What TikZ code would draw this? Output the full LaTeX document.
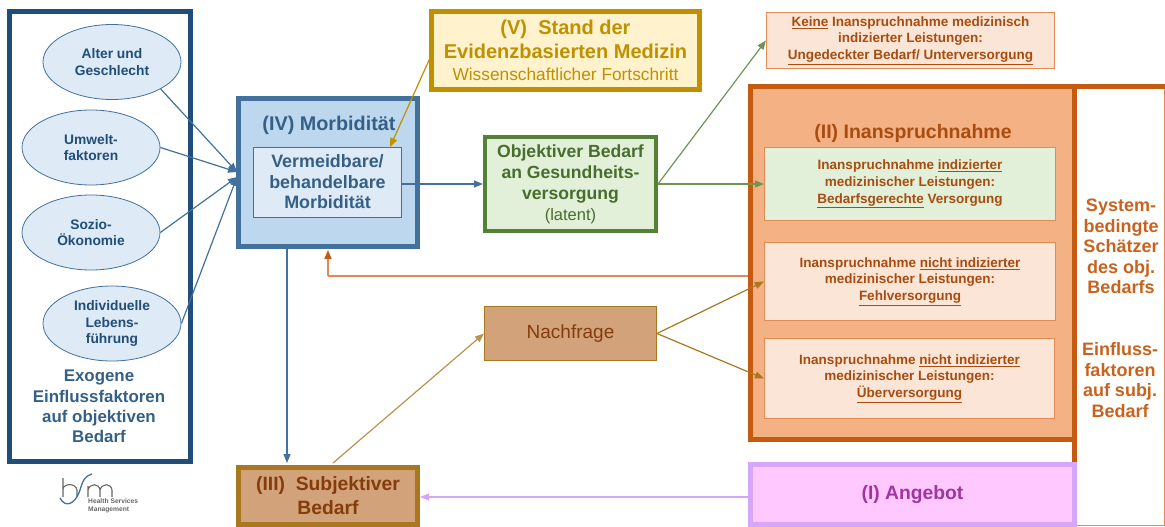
\documentclass[tikz,border=0pt]{standalone}
\usepackage{fontspec}
\setmainfont{Liberation Sans}
\usetikzlibrary{arrows.meta,shapes.geometric}
\definecolor{darkblue}{HTML}{1F4E79}
\definecolor{midblue}{HTML}{41719C}
\definecolor{lightblue}{HTML}{BDD7EE}
\definecolor{paleblue}{HTML}{DEEAF6}
\definecolor{darkgreen}{HTML}{548235}
\definecolor{palegreen}{HTML}{E2F0D9}
\definecolor{gold}{HTML}{BF9000}
\definecolor{palegold}{HTML}{FFF2CC}
\definecolor{darkorange}{HTML}{C55A11}
\definecolor{midorange}{HTML}{F4B183}
\definecolor{paleorange}{HTML}{FBE5D6}
\definecolor{lineorange}{HTML}{E08A55}
\definecolor{brown}{HTML}{A8771F}
\definecolor{tan}{HTML}{D2A27A}
\definecolor{darkbrown}{HTML}{843C0C}
\definecolor{lilac}{HTML}{D6A6FA}
\definecolor{palelilac}{HTML}{FFC9FF}
\definecolor{purple}{HTML}{A0359F}
\newcommand{\px}[2]{\fontsize{#1}{#2}\selectfont}
\begin{document}
\begin{tikzpicture}[x=1pt,y=-1pt,>={Triangle[length=9pt,width=7pt]}]
\tikzstyle{box}=[draw,rectangle,align=center,inner sep=0pt]
\tikzstyle{link}=[->,line width=1.2pt]
\tikzstyle{factor}=[draw=midblue,ellipse,fill=paleblue,text=darkblue,align=center,minimum width=138pt,minimum height=75pt,inner sep=0pt,line width=.8pt,font=\bfseries\px{13.8}{16.3}]
\tikzstyle{care}=[box,draw=lineorange,fill=paleorange,text=darkorange!85!black,line width=1.2pt,font=\bfseries\px{13.5}{16.6}]
\useasboundingbox (0,0) rectangle (1165,527);
\node[box,draw=darkblue,line width=5pt,minimum width=181pt,minimum height=449pt] (exo) at (100,236.5) {};
\node[factor] (age) at (112,62) {Alter und\\Geschlecht};
\node[factor] (env) at (91,147.5) {Umwelt-\\faktoren};
\node[factor] (soc) at (91,232.5) {Sozio-\\Ökonomie};
\node[factor] (life) at (112,323.5) {Individuelle\\Lebens-\\führung};
\node[align=center,text=darkblue!90!white,font=\bfseries\px{16.9}{20.3}] (exotext) at (99,406.5) {Exogene\\Einflussfaktoren\\auf objektiven\\Bedarf};
\node[box,draw=midblue,fill=lightblue,line width=5pt,minimum width=179pt,minimum height=148pt] (morb) at (328,172.5) {};
\node[text=darkblue!90!white,font=\bfseries\px{19.8}{23}] (morbtext) at (329,125.5) {(IV) Morbidität};
\node[box,draw=midblue,fill=paleblue,line width=1pt,minimum width=148pt,minimum height=70pt,text=darkblue!90!white,font=\bfseries\px{17.9}{20.4}] (avoid) at (327.5,182) {Vermeidbare/\\behandelbare\\Morbidität};
\node[box,draw=gold,fill=palegold,line width=5pt,minimum width=268pt,minimum height=78pt,text=gold,font=\bfseries\px{20}{23.5}] (state) at (565.5,50.5) {(V) ~Stand der\\Evidenzbasierten Medizin\\[-1.5pt]{\mdseries\px{17.3}{20}Wissenschaftlicher Fortschritt}};
\node[box,draw=darkgreen,fill=palegreen,line width=4pt,minimum width=171pt,minimum height=94pt,text=darkgreen!85!black,font=\bfseries\px{17.6}{21}] (need) at (570.5,184) {Objektiver Bedarf\\an Gesundheits-\\versorgung\\{\mdseries\px{16.5}{21}(latent)}};
\node[care,minimum width=288pt,minimum height=56pt] (none) at (910.5,40.5) {\underline{Keine} Inanspruchnahme medizinisch\\indizierter Leistungen:\\\underline{Ungedeckter Bedarf/ Unterversorgung}};
\node[box,draw=lineorange,line width=1pt,minimum width=90pt,minimum height=439pt] (est) at (1119.5,306) {};
\node[align=center,text=darkorange!95!white,font=\bfseries\px{18}{20.6}] (sys) at (1121,246.5) {System-\\bedingte\\Schätzer\\des obj.\\Bedarfs};
\node[align=center,text=darkorange!95!white,font=\bfseries\px{18}{20.6}] (infl) at (1120,380) {Einfluss-\\faktoren\\auf subj.\\Bedarf};
\node[box,draw=darkorange,fill=midorange,line width=5pt,minimum width=324pt,minimum height=353pt] (use) at (912.5,263) {};
\draw[darkorange,line width=5pt] (1072,86.5) -- (1165,86.5);
\draw[darkorange,line width=5pt] (1074.5,440) -- (1074.5,464);
\node[text=darkorange!85!black,font=\bfseries\px{19.5}{23}] (usetext) at (913,133) {(II) Inanspruchnahme};
\node[care,fill=palegreen,minimum width=291pt,minimum height=73pt] (fit) at (910,184) {Inanspruchnahme \underline{indizierter}\\medizinischer Leistungen:\\\underline{Bedarfsgerechte} Versorgung};
\node[care,minimum width=291pt,minimum height=78pt] (wrong) at (910,281.5) {Inanspruchnahme \underline{nicht indizierter}\\medizinischer Leistungen:\\\underline{Fehlversorgung}};
\node[care,minimum width=290pt,minimum height=80pt] (over) at (909.5,378.5) {Inanspruchnahme \underline{nicht indizierter}\\medizinischer Leistungen:\\\underline{Überversorgung}};
\node[box,draw=lilac,fill=palelilac,line width=5pt,minimum width=324pt,minimum height=60pt,text=purple,font=\bfseries\px{19.3}{23}] (offer) at (912.5,494.5) {(I) Angebot};
\node[box,draw=brown,line width=1pt,fill=tan,minimum width=172pt,minimum height=54pt,text=darkbrown,font=\px{19}{23}] (demand) at (570.5,333.5) {Nachfrage};
\node[box,draw=brown,fill=tan,line width=5pt,minimum width=179pt,minimum height=57pt,text=darkbrown,font=\bfseries\px{19.3}{23.5}] (subj) at (328,495.5) {(III) ~Subjektiver\\Bedarf};
\coordinate (hit) at (237,172);
\coordinate (hitlow) at (237,177);
\coordinate (goldout) at (430,58);
\coordinate (goldin) at (390,147);
\coordinate (up) at (328,250);
\coordinate (wrongout) at (748,276);
\coordinate (bend) at (328,276);
\coordinate (morbout) at (287,249);
\coordinate (subjin) at (287,463);
\coordinate (subjout) at (333,463);
\coordinate (offerout) at (748,497);
\coordinate (offerin) at (420,497);
\draw[link,midblue] (age.-29) -- (hit);
\draw[link,midblue] (env.east) -- (hit);
\draw[link,midblue] (soc.east) -- (hitlow);
\draw[link,midblue] (life.east) -- (hitlow);
\draw[link,gold] (goldout) -- (goldin);
\draw[link,midblue] (need.west -| avoid.east) -- (need.west);
\draw[link,darkgreen!85!white] (need.east) -- (none.west);
\draw[link,darkgreen!85!white] (need.east) -- (fit.west);
\draw[lineorange,line width=1.5pt] (wrongout) -- (bend);
\draw[link,lineorange,line width=1.5pt,>={Triangle[length=9pt,width=7pt,color=darkorange]}] (bend) -- (up);
\draw[link,midblue] (morbout) -- (subjin);
\draw[link,brown!80!white] (subjout) -- (demand.west);
\draw[link,brown] (demand.east) -- (wrong.west);
\draw[link,brown] (demand.east) -- (over.west);
\draw[link,lilac] (offerout) -- (offerin);
\draw[gray!80!black,line width=1.1pt] (63,478) -- (63,497) (63,489) .. controls (64,483) and (76,483) .. (77,490) -- (77,497);
\draw[midblue,line width=1.3pt] (60,498) .. controls (65,508) and (75,505) .. (80,490) .. controls (83,480) and (85,476) .. (92,474);
\draw[gray!80!black,line width=1.1pt] (88,497) -- (88,486) (88,490) .. controls (90,483) and (99,483) .. (100,490) -- (100,497) (100,490) .. controls (102,483) and (111,483) .. (112,490) -- (112,497);
\node[anchor=north west,align=left,inner sep=0pt,text=gray!80!black,font=\bfseries\px{6.7}{7.5}] (logotext) at (88,498.5) {Health Services\\Management};
\end{tikzpicture}
\end{document}
